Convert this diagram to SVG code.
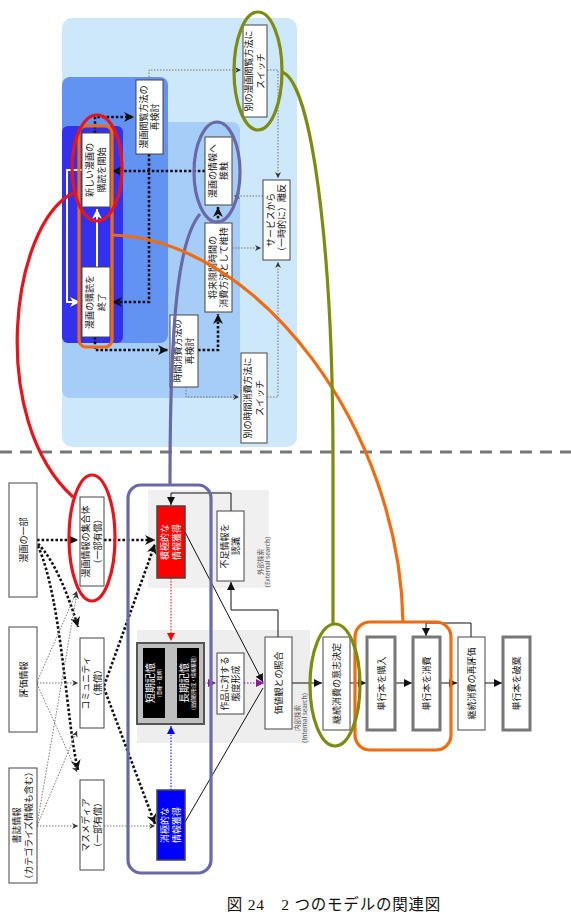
<svg xmlns="http://www.w3.org/2000/svg" width="571" height="916" viewBox="0 0 571 916">
<style>
text{font-family:"Noto Sans CJK JP","Noto Sans",sans-serif;font-size:9px;fill:#111;text-anchor:middle}
.w{fill:#fff}
.box{fill:#fff;stroke:#444;stroke-width:1}
.tb{fill:#fff;stroke:#777;stroke-width:3}
.sol{fill:none;stroke:#111;stroke-width:1}
.td{fill:none;stroke:#111;stroke-width:2.6;stroke-dasharray:2.6 2}
.tn{fill:none;stroke:#777;stroke-width:1;stroke-dasharray:1.5 1.5}
.lbl{font-size:6.5px;fill:#555}
.ann{fill:none;stroke-width:3.2}
</style>
<defs>
<marker id="a" markerUnits="userSpaceOnUse" markerWidth="9" markerHeight="8" refX="8" refY="4" orient="auto"><path d="M0,0 L8,4 L0,8 z" fill="#111"/></marker>
<marker id="s" markerUnits="userSpaceOnUse" markerWidth="11" markerHeight="11" refX="10" refY="5" orient="auto"><path d="M0,0 L10,5 L0,10 L3,5 z" fill="#111"/></marker>
<marker id="g" markerUnits="userSpaceOnUse" markerWidth="7" markerHeight="7" refX="6" refY="3" orient="auto"><path d="M0,0 L6,3 L0,6 L2,3 z" fill="#333"/></marker>
<marker id="r" markerUnits="userSpaceOnUse" markerWidth="9" markerHeight="8" refX="8" refY="4" orient="auto"><path d="M0,0 L8,4 L0,8 z" fill="#f00"/></marker>
<marker id="b" markerUnits="userSpaceOnUse" markerWidth="9" markerHeight="8" refX="8" refY="4" orient="auto"><path d="M0,0 L8,4 L0,8 z" fill="#00f"/></marker>
<marker id="p" markerUnits="userSpaceOnUse" markerWidth="9" markerHeight="8" refX="8" refY="4" orient="auto"><path d="M0,0 L8,4 L0,8 z" fill="#8a1a9a"/></marker>
<marker id="wh" markerUnits="userSpaceOnUse" markerWidth="11" markerHeight="11" refX="10" refY="5" orient="auto"><path d="M0,0 L10,5 L0,10 L3,5 z" fill="#fff"/></marker>
</defs>
<rect width="571" height="916" fill="#fff"/>

<g id="bg-top">
<rect x="62" y="18" width="235" height="429" rx="10" fill="#cde8fb"/>
<rect x="62" y="122" width="178" height="276" rx="8" fill="#a6cdf7"/>
<rect x="62" y="77" width="106" height="266" rx="8" fill="#6393f2"/>
<rect x="62" y="126" width="61" height="217" rx="6" fill="#3232ee"/>
</g>
<g id="bg-bottom">
<rect x="148" y="490" width="121" height="98" fill="#f0f0f0"/>
<rect x="137" y="630" width="173" height="113" fill="#eeeeee"/>
</g>
<line x1="0" y1="452" x2="571" y2="452" stroke="#777" stroke-width="3" stroke-dasharray="12 8"/>

<g id="connectors">
<polyline class="td" points="95,133 95,117 134,117" marker-end="url(#s)"/>
<polyline class="td" points="149,154 149,302 112,302" marker-end="url(#s)"/>
<polyline class="td" points="205,171 112,171" marker-end="url(#s)"/>
<polyline class="td" points="218,223 218,207" marker-end="url(#s)"/>
<polyline class="td" points="95,337 95,350 168,350" marker-end="url(#s)"/>
<polyline class="td" points="198,350 218,350 218,314" marker-end="url(#s)"/>
<polyline class="tn" points="149,80 149,70 241,70" marker-end="url(#g)"/>
<polyline class="tn" points="267,70 278,70 278,178" marker-end="url(#g)"/>
<polyline class="tn" points="263,196 234,196" marker-end="url(#g)"/>
<polyline class="tn" points="232,248 261,248" marker-end="url(#g)"/>
<polyline class="tn" points="186,387 186,397 239,397" marker-end="url(#g)"/>
<polyline class="tn" points="267,397 278,397 278,262" marker-end="url(#g)"/>
<line x1="97" y1="267" x2="97" y2="209" stroke="#fff" stroke-width="2" marker-end="url(#wh)"/>
<polyline points="82,170 67,170 67,302 80,302" fill="none" stroke="#fff" stroke-width="2" marker-end="url(#wh)"/>
<line class="td" x1="37" y1="540" x2="78" y2="540" marker-end="url(#s)"/>
<line class="td" x1="104" y1="540" x2="155" y2="540" marker-end="url(#s)"/>
<path class="td" d="M38,544 C55,560 70,600 78,627" marker-end="url(#s)"/>
<path class="td" d="M38,546 C62,600 66,720 78,770" marker-end="url(#s)"/>
<line class="td" x1="104" y1="686" x2="155" y2="544" marker-end="url(#s)"/>
<line class="td" x1="104" y1="688" x2="155" y2="824" marker-end="url(#s)"/>
<line class="tn" x1="37" y1="682" x2="77" y2="591" marker-end="url(#g)"/>
<line class="tn" x1="37" y1="683" x2="78" y2="683" marker-end="url(#g)"/>
<line class="tn" x1="37" y1="684" x2="77" y2="772" marker-end="url(#g)"/>
<line class="tn" x1="37" y1="825" x2="77" y2="593" stroke="#aaa" marker-end="url(#g)"/>
<line class="tn" x1="37" y1="826" x2="77" y2="731" stroke="#aaa" marker-end="url(#g)"/>
<line class="tn" x1="37" y1="826" x2="78" y2="826" marker-end="url(#g)"/>
<line class="tn" x1="104" y1="826" x2="155" y2="826" marker-end="url(#g)"/>
<line class="sol" x1="185" y1="532" x2="263" y2="682" marker-end="url(#a)"/>
<line class="sol" x1="185" y1="822" x2="263" y2="688"/>
<line x1="171" y1="578" x2="171" y2="641" stroke="#f00" stroke-width="1" stroke-dasharray="1.5 1.5" marker-end="url(#r)"/>
<line x1="171" y1="790" x2="171" y2="726" stroke="#00f" stroke-width="1" stroke-dasharray="1.5 1.5" marker-end="url(#b)"/>
<line class="sol" x1="165" y1="683" x2="176" y2="683" marker-end="url(#a)"/>
<line x1="204" y1="683" x2="216" y2="683" stroke="#8a1a9a" stroke-width="1" stroke-dasharray="1.5 1.5" marker-end="url(#p)"/>
<line x1="244" y1="683" x2="264" y2="683" stroke="#8a1a9a" stroke-width="1" stroke-dasharray="1.5 1.5" marker-end="url(#p)"/>
<polyline class="sol" points="278,637 278,610 231,610 231,582" marker-end="url(#a)"/>
<polyline class="sol" points="231,511 231,493 171,493 171,505" marker-end="url(#a)"/>
<line class="sol" x1="292" y1="683" x2="322" y2="683" marker-end="url(#a)"/>
<line class="sol" x1="350" y1="683" x2="366" y2="683" marker-end="url(#a)"/>
<line class="sol" x1="395" y1="683" x2="412" y2="683" marker-end="url(#a)"/>
<line class="sol" x1="440" y1="683" x2="457" y2="683" marker-end="url(#a)"/>
<line class="sol" x1="485" y1="683" x2="502" y2="683" marker-end="url(#a)"/>
<polyline class="sol" points="471,637 471,623 426,623 426,636" marker-end="url(#a)"/>
</g>

<g id="n-browse-review"><rect class="box" x="136" y="80" width="27" height="74"/><text transform="translate(149.5,117) rotate(-90)"><tspan x="0" y="-3">漫画閲覧方法の</tspan><tspan x="0" y="8.5">再検討</tspan></text></g>
<g id="n-start"><rect class="box" x="82" y="133" width="28" height="74"/><text transform="translate(96,170) rotate(-90)"><tspan x="0" y="-3">新しい漫画の</tspan><tspan x="0" y="8.5">購読を開始</tspan></text></g>
<g id="n-end"><rect class="box" x="82" y="267" width="28" height="70"/><text transform="translate(96,302) rotate(-90)"><tspan x="0" y="-3">漫画の購読を</tspan><tspan x="0" y="8.5">終了</tspan></text></g>
<g id="n-contact"><rect class="box" x="205" y="137" width="27" height="68"/><text transform="translate(218.5,171) rotate(-90)"><tspan x="0" y="-3">漫画の情報へ</tspan><tspan x="0" y="8.5">接触</tspan></text></g>
<g id="n-keep"><rect class="box" x="205" y="223" width="27" height="89"/><text transform="translate(218.5,267.5) rotate(-90)"><tspan x="0" y="-3">将来隙間時間の</tspan><tspan x="0" y="8.5">消費方法として維持</tspan></text></g>
<g id="n-time-review"><rect class="box" x="170" y="315" width="28" height="72"/><text transform="translate(184,351) rotate(-90)"><tspan x="0" y="-3">時間消費方法の</tspan><tspan x="0" y="8.5">再検討</tspan></text></g>
<g id="n-switch-browse"><rect class="box" x="243" y="25" width="24" height="92"/><text transform="translate(255,71) rotate(-90)"><tspan x="0" y="-3">別の漫画閲覧方法に</tspan><tspan x="0" y="8.5">スイッチ</tspan></text></g>
<g id="n-leave"><rect class="box" x="263" y="180" width="27" height="80"/><text transform="translate(276.5,220) rotate(-90)"><tspan x="0" y="-3">サービスから</tspan><tspan x="0" y="8.5">（一時的に）離反</tspan></text></g>
<g id="n-switch-time"><rect class="box" x="241" y="353" width="26" height="90"/><text transform="translate(254,398) rotate(-90)"><tspan x="0" y="-3">別の時間消費方法に</tspan><tspan x="0" y="8.5">スイッチ</tspan></text></g>

<g id="n-part"><rect class="box" x="9" y="483" width="28" height="114"/><text transform="translate(23,540) rotate(-90)" y="3.5">漫画の一部</text></g>
<g id="n-eval"><rect class="box" x="9" y="627" width="28" height="105"/><text transform="translate(23,679.5) rotate(-90)" y="3.5">評価情報</text></g>
<g id="n-biblio"><rect class="box" x="9" y="768" width="28" height="115"/><text transform="translate(23,825.5) rotate(-90)" font-size="8.5"><tspan x="0" y="-3">書誌情報</tspan><tspan x="0" y="8.5">（カテゴライズ情報も含む）</tspan></text></g>
<g id="n-collection"><rect class="box" x="80" y="497" width="24" height="89"/><text transform="translate(92,541.5) rotate(-90)"><tspan x="0" y="-3">漫画情報の集合体</tspan><tspan x="0" y="8.5">（一部有償）</tspan></text></g>
<g id="n-community"><rect class="box" x="80" y="638" width="24" height="90"/><text transform="translate(92,683) rotate(-90)"><tspan x="0" y="-3">コミュニティ</tspan><tspan x="0" y="8.5">（無償）</tspan></text></g>
<g id="n-media"><rect class="box" x="80" y="780" width="24" height="90"/><text transform="translate(92,825) rotate(-90)"><tspan x="0" y="-3">マスメディア</tspan><tspan x="0" y="8.5">（一部有償）</tspan></text></g>
<g id="n-active"><rect x="157" y="506" width="28" height="72" fill="#ff0000" stroke="#444" stroke-width="1.5"/><text class="w" transform="translate(171,542) rotate(-90)"><tspan x="0" y="-3">積極的な</tspan><tspan x="0" y="8.5">情報獲得</tspan></text></g>
<g id="n-passive"><rect x="157" y="790" width="28" height="70" fill="#0000ff" stroke="#444" stroke-width="1.5"/><text class="w" transform="translate(171,825) rotate(-90)"><tspan x="0" y="-3">消極的な</tspan><tspan x="0" y="8.5">情報獲得</tspan></text></g>
<g id="n-memory">
<rect x="137" y="643" width="67" height="81" fill="#bfbfbf" stroke="#555" stroke-width="2"/>
<rect x="143" y="648" width="22" height="70" fill="#000"/>
<rect x="177" y="648" width="22" height="70" fill="#000"/>
<text class="w" transform="translate(154,683) rotate(-90)"><tspan x="0" y="0" font-size="10">短期記憶</tspan><tspan x="0" y="7" font-size="5">（意味・理解）</tspan></text>
<text class="w" transform="translate(188,683) rotate(-90)"><tspan x="0" y="0" font-size="10">長期記憶</tspan><tspan x="0" y="7" font-size="5">（価値観形成・情報蓄積）</tspan></text>
</g>
<g id="n-attitude"><rect class="box" x="217" y="653" width="27" height="61"/><text transform="translate(230.5,683.5) rotate(-90)"><tspan x="0" y="-3">作品に対する</tspan><tspan x="0" y="8.5">態度形成</tspan></text></g>
<g id="n-lack"><rect class="box" x="217" y="511" width="27" height="70"/><text transform="translate(230.5,546) rotate(-90)"><tspan x="0" y="-3">不足情報を</tspan><tspan x="0" y="8.5">認識</tspan></text></g>
<text class="lbl" transform="translate(264,562) rotate(-90)"><tspan x="0" y="-1.5">外部探索</tspan><tspan x="0" y="6">（External search）</tspan></text>
<g id="n-values"><rect class="box" x="265" y="637" width="27" height="92"/><text transform="translate(278.5,683) rotate(-90)" y="3.5">価値観との照合</text></g>
<text class="lbl" transform="translate(301,718) rotate(-90)"><tspan x="0" y="-1.5">内部探索</tspan><tspan x="0" y="6">（Internal search）</tspan></text>
<g id="n-decide"><rect class="box" x="323" y="637" width="27" height="93"/><text transform="translate(336.5,683.5) rotate(-90)" y="3.5">継続消費の意志決定</text></g>
<g id="n-buy"><rect class="tb" x="367" y="637" width="28" height="93"/><text transform="translate(381,683.5) rotate(-90)" y="3.5">単行本を購入</text></g>
<g id="n-consume"><rect class="tb" x="413" y="637" width="27" height="93"/><text transform="translate(426.5,683.5) rotate(-90)" y="3.5">単行本を消費</text></g>
<g id="n-reeval"><rect class="box" x="458" y="637" width="27" height="93"/><text transform="translate(471.5,683.5) rotate(-90)" y="3.5">継続消費の再評価</text></g>
<g id="n-discard"><rect class="tb" x="503" y="637" width="27" height="93"/><text transform="translate(516.5,683.5) rotate(-90)" y="3.5">単行本を破棄</text></g>

<g id="annotations">
<rect class="ann" x="128" y="485" width="83" height="388" rx="13" stroke="#6a69a8" stroke-width="3.5"/>
<ellipse class="ann" cx="217" cy="172" rx="23" ry="50" stroke="#6a69a8"/>
<path class="ann" d="M200,214 C178,240 170,320 170,485" stroke="#6a69a8"/>
<rect class="ann" x="79" y="126" width="33" height="221" rx="7" stroke="#f26b0f" stroke-width="3.5"/>
<rect class="ann" x="355" y="622" width="96" height="128" rx="15" stroke="#f26b0f" stroke-width="3.5"/>
<path class="ann" d="M112,235 C260,240 400,430 403,622" stroke="#f26b0f"/>
<ellipse class="ann" cx="97" cy="168" rx="25" ry="53" stroke="#e8141b"/>
<ellipse class="ann" cx="92" cy="538" rx="23" ry="63" stroke="#e8141b"/>
<path class="ann" d="M73,193 C10,225 -12,420 73,497" stroke="#e8141b"/>
<ellipse class="ann" cx="258" cy="71" rx="24" ry="59" stroke="#7d8c0f"/>
<ellipse class="ann" cx="335" cy="685" rx="25" ry="61" stroke="#7d8c0f"/>
<path class="ann" d="M282,72 C312,82 333,250 333,460 L333,624" stroke="#7d8c0f"/>
</g>

<text x="334" y="910" style="font-family:'Liberation Serif','Noto Sans CJK JP',serif;font-size:15.5px;letter-spacing:0.8px">図 24　2 つのモデルの関連図</text>
</svg>
